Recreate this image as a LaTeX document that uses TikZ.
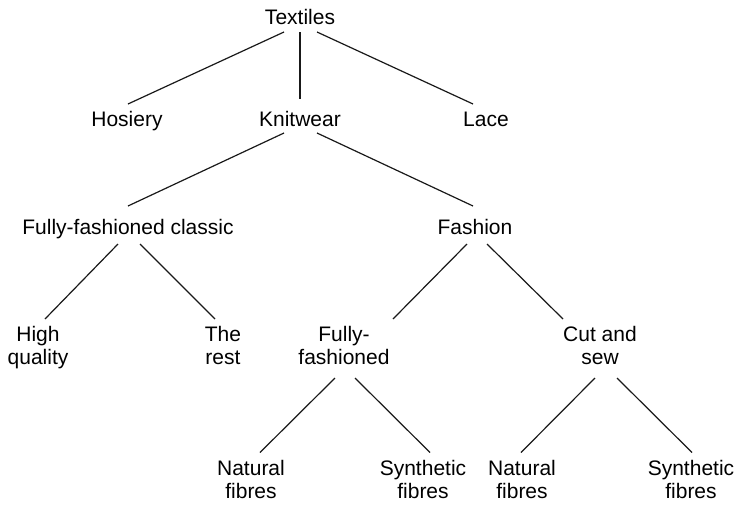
\documentclass[tikz,border=0pt]{standalone}
\usepackage{fontspec}
\setmainfont{Liberation Sans}
\usetikzlibrary{calc}
\begin{document}
\begin{tikzpicture}[x=1pt,y=-1pt,
  label/.style={inner sep=0pt, anchor=base, align=center,
    font=\fontsize{21}{23}\selectfont},
  branch/.style={line width=1.2pt, draw=black!90}]
\useasboundingbox (0,0) rectangle (737,504);

% nodes (anchor = baseline of the last line)
\node[label] (tex) at (300,24.5) {Textiles};
\node[label] (hos) at (127,126.5) {Hosiery};
\node[label] (kni) at (300,126.5) {Knitwear};
\node[label] (lac) at (486,126.5) {Lace};
\node[label] (ffc) at (128,234.5) {Fully-fashioned classic};
\node[label] (fas) at (475,234.5) {Fashion};
\node[label] (hq)  at (38,364.5)  {High\\quality};
\node[label] (rst) at (223,364.5) {The\\rest};
\node[label] (ff)  at (344,364.5) {Fully-\\fashioned};
\node[label] (cs)  at (600,364.5) {Cut and\\sew};
\node[label] (nat1) at (251,498.5) {Natural\\fibres};
\node[label] (syn1) at (423,498.5) {Synthetic\\fibres};
\node[label] (nat2) at (522,498.5) {Natural\\fibres};
\node[label] (syn2) at (691,498.5) {Synthetic\\fibres};

% branches
\draw[branch] ($(tex.base)+(-16,7.5)$) -- ($(hos.base)+(1,-22.5)$);
\draw[branch] ($(tex.base)+(0,7.5)$)   -- ($(kni.base)+(0,-27.5)$);
\draw[branch] ($(tex.base)+(17,7.5)$)  -- ($(lac.base)+(-13,-22.5)$);

\draw[branch] ($(kni.base)+(-16,6.5)$) -- ($(ffc.base)+(0,-28.5)$);
\draw[branch] ($(kni.base)+(17,6.5)$)  -- ($(fas.base)+(-2,-28.5)$);

\draw[branch] ($(ffc.base)+(-10,9.5)$) -- ($(hq.base)+(7,-45.5)$);
\draw[branch] ($(ffc.base)+(12,9.5)$)  -- ($(rst.base)+(-8,-45.5)$);
\draw[branch] ($(fas.base)+(-8,9.5)$)  -- ($(ff.base)+(49,-45.5)$);
\draw[branch] ($(fas.base)+(12,9.5)$)  -- ($(cs.base)+(-37,-45.5)$);

\draw[branch] ($(ff.base)+(-9,13.5)$)  -- ($(nat1.base)+(9,-46)$);
\draw[branch] ($(ff.base)+(11,13.5)$)  -- ($(syn1.base)+(7,-46)$);
\draw[branch] ($(cs.base)+(-5,13.5)$)  -- ($(nat2.base)+(-1,-46)$);
\draw[branch] ($(cs.base)+(17,13.5)$)  -- ($(syn2.base)+(1,-46)$);
\end{tikzpicture}
\end{document}
